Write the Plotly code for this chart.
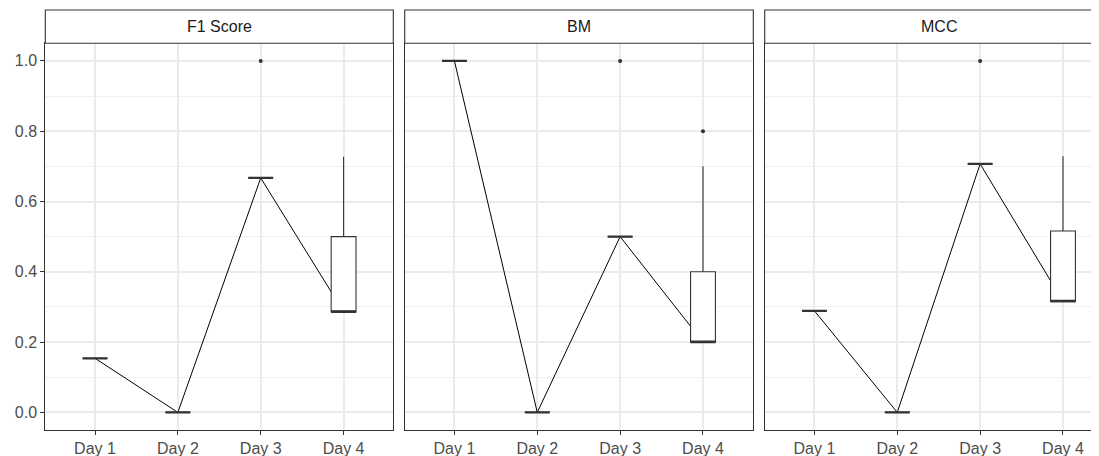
import plotly.graph_objects as go

days = ["Day 1", "Day 2", "Day 3", "Day 4"]
day_pos = [1, 2, 3, 4]
metrics = ["F1 Score", "BM", "MCC"]

# box statistics per metric (per day)
f1_lower = [0.154, 0.0, 0.667, 0.286]
f1_q1 = [0.154, 0.0, 0.667, 0.286]
f1_median = [0.154, 0.0, 0.667, 0.286]
f1_q3 = [0.154, 0.0, 0.667, 0.500]
f1_upper = [0.154, 0.0, 0.667, 0.727]
f1_out_x = [3]
f1_out_y = [1.0]

bm_lower = [1.0, 0.0, 0.5, 0.2]
bm_q1 = [1.0, 0.0, 0.5, 0.2]
bm_median = [1.0, 0.0, 0.5, 0.2]
bm_q3 = [1.0, 0.0, 0.5, 0.4]
bm_upper = [1.0, 0.0, 0.5, 0.7]
bm_out_x = [3, 4]
bm_out_y = [1.0, 0.8]

mcc_lower = [0.289, 0.0, 0.707, 0.316]
mcc_q1 = [0.289, 0.0, 0.707, 0.316]
mcc_median = [0.289, 0.0, 0.707, 0.316]
mcc_q3 = [0.289, 0.0, 0.707, 0.516]
mcc_upper = [0.289, 0.0, 0.707, 0.729]
mcc_out_x = [3]
mcc_out_y = [1.0]

stats = [
    (f1_lower, f1_q1, f1_median, f1_q3, f1_upper, f1_out_x, f1_out_y),
    (bm_lower, bm_q1, bm_median, bm_q3, bm_upper, bm_out_x, bm_out_y),
    (mcc_lower, mcc_q1, mcc_median, mcc_q3, mcc_upper, mcc_out_x, mcc_out_y),
]

# the page body has an 8px default margin; the figure fills the rest of the window
OFF = 8
W, H = 1099 - OFF, 456 - OFF
BOXW = 0.3
FONT = "Liberation Sans, Arial, sans-serif"
DARK = "#333333"
GRID = "#EBEBEB"
TXT = 16

# panel geometry (window pixels)
panels_px = [(45.3, 393.3), (404.7, 753.3), (764.7, 1113.3)]
px_per_unit = (393.3 - 45.3) / 4.2
y_top_px, y_bot_px = 43.3, 430.0
strip_top_px = 10.0

def px2x(p):
    return (p - OFF) / W

def px2y(p):
    return (H - (p - OFF)) / H

fig = go.Figure()
layout = {}
shapes = []
annotations = []

for i, (name, st) in enumerate(zip(metrics, stats)):
    lo, q1, med, q3, up, ox, oy = st
    base = i + 1
    ov = i + 4
    xb = "x" if base == 1 else f"x{base}"
    yb = "y" if base == 1 else f"y{base}"
    xo, yo = f"x{ov}", f"y{ov}"

    left, right = panels_px[i]
    d0 = px2x(left)
    d1 = min(1.0, px2x(right))
    right_clip = min(right, W + OFF)
    xr = [0.4, 0.4 + (right_clip - left) / px_per_unit]
    ydom = [px2y(y_bot_px), px2y(y_top_px)]

    # connecting line through medians (base axes -> below boxes)
    fig.add_trace(go.Scatter(x=day_pos, y=med, mode="lines",
                             line=dict(color="black", width=1.0),
                             xaxis=xb, yaxis=yb, showlegend=False, hoverinfo="skip"))
    # boxes (overlay axes -> above line)
    fig.add_trace(go.Box(x=day_pos, q1=q1, median=med, q3=q3,
                         lowerfence=lo, upperfence=up, width=BOXW,
                         fillcolor="white", line=dict(color=DARK, width=1.1),
                         whiskerwidth=0, boxpoints=False,
                         xaxis=xo, yaxis=yo, showlegend=False))
    # fattened median segments
    mx, my = [], []
    for p, m in zip(day_pos, med):
        mx += [p - BOXW / 2, p + BOXW / 2, None]
        my += [m, m, None]
    fig.add_trace(go.Scatter(x=mx, y=my, mode="lines",
                             line=dict(color=DARK, width=2.2),
                             xaxis=xo, yaxis=yo, showlegend=False, hoverinfo="skip"))
    # outliers
    fig.add_trace(go.Scatter(x=ox, y=oy, mode="markers",
                             marker=dict(color=DARK, size=4),
                             xaxis=xo, yaxis=yo, showlegend=False))

    key_xb = "xaxis" if base == 1 else f"xaxis{base}"
    key_yb = "yaxis" if base == 1 else f"yaxis{base}"
    layout[key_xb] = dict(
        domain=[d0, d1], anchor=yb, range=xr, automargin=False,
        tickmode="array", tickvals=day_pos, ticktext=days,
        showgrid=True, gridcolor=GRID, gridwidth=1.6, zeroline=False,
        showline=True, linecolor=DARK, linewidth=1.1, mirror=True,
        ticks="outside", ticklen=4, tickcolor=DARK, tickwidth=1.1,
        tickfont=dict(family=FONT, size=TXT, color="#4D4D4D"),
        fixedrange=True,
    )
    ydict = dict(
        domain=ydom, anchor=xb, range=[-0.05, 1.05], automargin=False,
        tickmode="array", tickvals=[0, 0.2, 0.4, 0.6, 0.8, 1.0],
        ticktext=["0.0", "0.2", "0.4", "0.6", "0.8", "1.0"],
        showgrid=True, gridcolor=GRID, gridwidth=1.6, zeroline=False,
        minor=dict(tickvals=[0.1, 0.3, 0.5, 0.7, 0.9], showgrid=True,
                   gridcolor="#F0F0F0", gridwidth=1.0, ticks=""),
        showline=True, linecolor=DARK, linewidth=1.1,
        mirror=(i < 2),
        fixedrange=True,
    )
    if i == 0:
        ydict.update(ticks="outside", ticklen=4, tickcolor=DARK, tickwidth=1.1,
                     tickfont=dict(family=FONT, size=TXT, color="#4D4D4D"))
    else:
        ydict.update(ticks="", showticklabels=False)
    layout[key_yb] = ydict

    layout[f"xaxis{ov}"] = dict(overlaying=xb, anchor=yo, range=xr, visible=False,
                                automargin=False, showgrid=False, zeroline=False, fixedrange=True)
    layout[f"yaxis{ov}"] = dict(overlaying=yb, anchor=xo, range=[-0.05, 1.05], visible=False,
                                automargin=False, showgrid=False, zeroline=False, fixedrange=True)

    # strip
    shapes.append(dict(type="rect", xref="paper", yref="paper",
                       x0=px2x(left), x1=px2x(right), y0=px2y(y_top_px), y1=px2y(strip_top_px),
                       line=dict(color=DARK, width=1.1), fillcolor="white", layer="above"))
    annotations.append(dict(text=name, xref="paper", yref="paper",
                            x=px2x((left + right) / 2), y=px2y((y_top_px + strip_top_px) / 2),
                            xanchor="center", yanchor="middle", showarrow=False,
                            font=dict(family=FONT, size=TXT, color="#1A1A1A")))

fig.update_layout(
    width=W, height=H, margin=dict(l=0, r=0, t=0, b=0, autoexpand=False),
    paper_bgcolor="white", plot_bgcolor="white",
    showlegend=False, shapes=shapes, annotations=annotations,
    **layout,
)

fig.write_html("out.html")
